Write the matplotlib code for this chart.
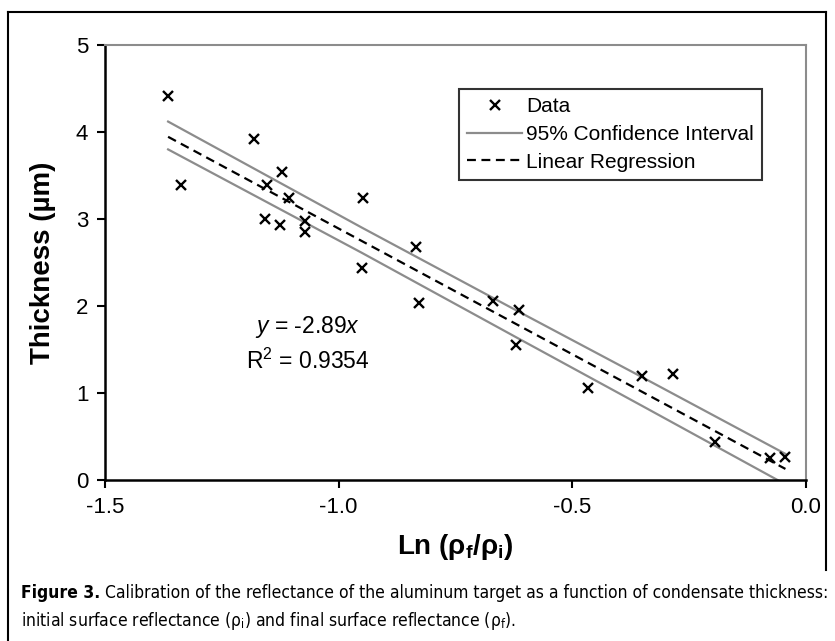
import matplotlib
matplotlib.use("Agg")
import matplotlib.pyplot as plt
from matplotlib.lines import Line2D

plt.rcParams['font.family'] = ['Liberation Sans', 'DejaVu Sans']
plt.rcParams['mathtext.fontset'] = 'custom'
plt.rcParams['mathtext.rm'] = 'Liberation Sans'
plt.rcParams['mathtext.it'] = 'Liberation Sans:italic'
plt.rcParams['mathtext.bf'] = 'Liberation Sans:bold'

# measured points: ln(rho_f/rho_i) vs thickness (um)
ln_ratio = [-1.365, -1.337, -1.181, -1.121, -1.153, -1.106, -1.157, -1.126,
            -1.071, -1.071, -0.949, -0.951, -0.835, -0.828, -0.670, -0.615,
            -0.620, -0.467, -0.350, -0.284, -0.194, -0.077, -0.044]
thickness = [4.41, 3.39, 3.92, 3.54, 3.39, 3.24, 3.00, 2.93,
             2.98, 2.85, 3.24, 2.44, 2.68, 2.04, 2.06, 1.95,
             1.55, 1.06, 1.19, 1.22, 0.44, 0.25, 0.26]

slope = -2.89
r2 = 0.9354

# 95% confidence band
ci_x = [-1.365, -0.95, -0.62, -0.35, -0.044]
ci_upper = [4.12, 2.90, 1.95, 1.18, 0.30]
ci_lower = [3.80, 2.61, 1.64, 0.85, -0.05]

fit_x = sorted(ln_ratio)
fit_y = [slope * v for v in fit_x]

fig = plt.figure(figsize=(8.35, 6.41), dpi=100)
ax = fig.add_axes([105 / 835, 1 - 480 / 641, 701 / 835, 435 / 641])

ax.plot(ci_x, ci_upper, color='#8c8c8c', lw=1.6, label='95% Confidence Interval')
ax.plot(ci_x, ci_lower, color='#8c8c8c', lw=1.6)
ax.plot(fit_x, fit_y, color='black', lw=1.6, ls=(0, (4, 2.5)), label='Linear Regression')
ax.plot(ln_ratio, thickness, ls='none', marker='x', ms=7.5, mew=1.7, color='black', label='Data')

ax.set_xlim(-1.5, 0.0)
ax.set_ylim(0, 5)
ax.set_xticks([-1.5, -1.0, -0.5, 0.0])
ax.set_xticklabels(['-1.5', '-1.0', '-0.5', '0.0'])
ax.set_yticks([0, 1, 2, 3, 4, 5])
ax.tick_params(direction='out', length=6, width=1.5, labelsize=16, pad=6)
for s in ['left', 'bottom']:
    ax.spines[s].set_linewidth(1.8)
    ax.spines[s].set_color('black')
for s in ['top', 'right']:
    ax.spines[s].set_linewidth(1.5)
    ax.spines[s].set_color('#8c8c8c')

ax.set_ylabel('Thickness (µm)', fontsize=20, fontweight='bold', labelpad=14)
ax.set_xlabel(r'Ln (ρ$_\mathbf{f}$/ρ$_\mathbf{i}$)', fontsize=20, fontweight='bold', labelpad=10)

ax.text(-1.067, 1.76, r'$y$ = -2.89$x$', fontsize=16.5, ha='center', va='center')
ax.text(-1.067, 1.36, 'R$^2$ = %.4f' % r2, fontsize=16.5, ha='center', va='center')

handles, labels = ax.get_legend_handles_labels()
order = [labels.index('Data'), labels.index('95% Confidence Interval'), labels.index('Linear Regression')]
leg = ax.legend([handles[i] for i in order], [labels[i] for i in order],
                loc='upper right', bbox_to_anchor=(0.937, 0.899), borderaxespad=0,
                fontsize=15, frameon=True, fancybox=False, handlelength=2.6,
                handletextpad=0.2, labelspacing=0.42, borderpad=0.4)
leg.get_frame().set_edgecolor('black')
leg.get_frame().set_linewidth(1.5)

# outer frame
fig.add_artist(Line2D([8 / 835, 826 / 835], [1 - 12 / 641, 1 - 12 / 641], color='black', lw=1.5))
fig.add_artist(Line2D([8 / 835, 8 / 835], [1 - 12 / 641, 0], color='black', lw=1.5))
fig.add_artist(Line2D([826 / 835, 826 / 835], [1 - 12 / 641, 1 - 570 / 641], color='black', lw=1.5))

# caption, sized so the first line spans the same width as the original
cap = dict(family='DejaVu Sans', fontstretch='condensed')
line1_a = 'Figure 3.'
line1_b = 'Calibration of the reflectance of the aluminum target as a function of condensate thickness:'
line2 = r'initial surface reflectance (ρ$_\mathregular{i}$) and final surface reflectance (ρ$_\mathregular{f}$).'

r = fig.canvas.get_renderer()
fs = 14
t1 = fig.text(21 / 835, 1 - 598 / 641, line1_a, fontsize=fs, fontweight='bold', va='baseline', **cap)
t2 = fig.text(0, 1 - 598 / 641, line1_b, fontsize=fs, va='baseline', **cap)
total = t1.get_window_extent(r).width + 5 + t2.get_window_extent(r).width
fs = fs * 808 / total
t1.set_fontsize(fs)
t2.set_fontsize(fs)
w1 = t1.get_window_extent(r).width
t2.set_x((21 + w1 + 5) / 835)
fig.text(21 / 835, 1 - 626 / 641, line2, fontsize=fs, va='baseline', **cap)

fig.savefig('out.png', dpi=100)
